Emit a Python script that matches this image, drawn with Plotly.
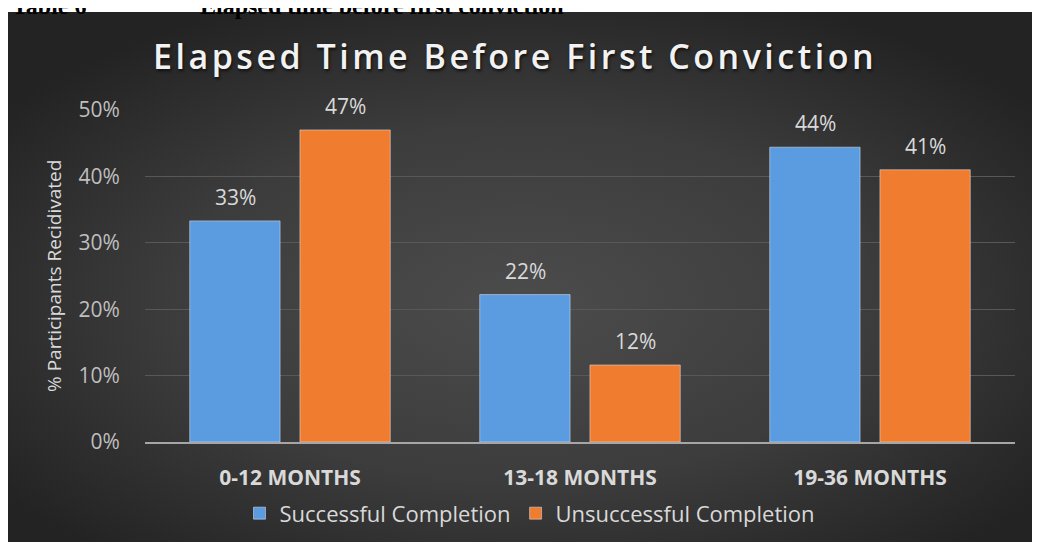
import base64
import plotly.graph_objects as go

categories = ['0-12 MONTHS', '13-18 MONTHS', '19-36 MONTHS']
successful = [0.333, 0.222, 0.444]
unsuccessful = [0.470, 0.116, 0.410]
series_names = ['Successful Completion', 'Unsuccessful Completion']
y_ticks = [0, 0.1, 0.2, 0.3, 0.4, 0.5]

BLUE = '#5b9be0'
ORANGE = '#f07c30'
FONT = 'Open Sans'

# the page body adds an 8px margin, so the figure is drawn 8px in from the corner
OFF = 8
W, H = 1040 - OFF, 546 - OFF
# plot area, in page pixels: x 145..1015, y 110..445
L, T = 145 - OFF, 110 - OFF
R, B = W - (1015 - OFF), H - (445 - OFF)
PW, PH = W - L - R, H - T - B


def px_x(p):
    return (p - OFF - L) / PW


def px_y(p):
    return (H - B - (p - OFF)) / PH


# dark panel with a soft radial glow, as an svg image behind the chart
svg = ('<svg xmlns="http://www.w3.org/2000/svg" width="1033" height="535" preserveAspectRatio="none">'
       '<defs><radialGradient id="g" cx="50%" cy="55%" r="62%">'
       '<stop offset="0" stop-color="#4c4c4c"/><stop offset="0.55" stop-color="#3c3c3c"/>'
       '<stop offset="1" stop-color="#232323"/></radialGradient></defs>'
       '<rect width="1033" height="535" fill="url(#g)"/></svg>')
svg_src = 'data:image/svg+xml;base64,' + base64.b64encode(svg.encode()).decode()

fig = go.Figure()
fig.add_trace(go.Bar(x=categories, y=successful, name=series_names[0],
                     marker_color=BLUE, hoverinfo='skip'))
fig.add_trace(go.Bar(x=categories, y=unsuccessful, name=series_names[1],
                     marker_color=ORANGE, hoverinfo='skip'))

# value labels above each bar
for shift, vals in ((-55, successful), (55, unsuccessful)):
    for c, v in zip(categories, vals):
        fig.add_annotation(x=c, y=v, xshift=shift, yshift=8, yanchor='bottom',
                           text=f'{v:.0%}', showarrow=False,
                           font=dict(family=FONT, size=21, color='#d9d9d9'))

fig.add_annotation(xref='paper', yref='paper', x=px_x(39), y=0.5,
                   text='% Participants Recidivated', textangle=-90, showarrow=False,
                   font=dict(family=FONT, size=19, color='#d9d9d9'))

# caption of the source document, cut by the page top
fig.add_annotation(xref='paper', yref='paper', x=px_x(10), y=px_y(20), xanchor='left',
                   yanchor='bottom', text='<b>Table 6</b>', showarrow=False,
                   font=dict(family='Liberation Serif', size=24, color='black'))
fig.add_annotation(xref='paper', yref='paper', x=px_x(198), y=px_y(20), xanchor='left',
                   yanchor='bottom', text='<b>Elapsed time before first conviction</b>',
                   showarrow=False,
                   font=dict(family='Liberation Serif', size=24, color='black'))

fig.add_layout_image(source=svg_src, xref='paper', yref='paper',
                     x=px_x(7), y=px_y(11), sizex=(1040 - 7) / PW, sizey=(546 - 11) / PH,
                     xanchor='left', yanchor='top', sizing='stretch', layer='below')

fig.update_layout(
    width=W, height=H,
    margin=dict(l=L, r=R, t=T, b=B),
    paper_bgcolor='white', plot_bgcolor='rgba(0,0,0,0)',
    barmode='group', bargap=0.24, bargroupgap=0.18,
    title=dict(text='<span style="letter-spacing:3.5px">Elapsed Time Before First Conviction</span>',
               x=(515 - OFF) / W, xanchor='center',
               y=1 - (57 - OFF) / H, yanchor='middle',
               font=dict(family=FONT, size=34, weight=600, color='#f2f2f2',
                         shadow='1px 2px 3px #111')),
    legend=dict(orientation='h', x=px_x(530), xanchor='center', y=px_y(517), yanchor='middle',
                font=dict(family=FONT, size=22, color='#d9d9d9'),
                bgcolor='rgba(0,0,0,0)', itemwidth=30),
    showlegend=True,
)
fig.update_xaxes(showline=True, linecolor='#a6a6a6', linewidth=2,
                 ticks='outside', ticklen=16, tickcolor='rgba(0,0,0,0)',
                 tickfont=dict(family=FONT, size=21, weight='bold', color='#d9d9d9'),
                 fixedrange=True)
fig.update_yaxes(range=[0, 0.5], tickvals=y_ticks, tickformat='.0%',
                 gridcolor='#585858', gridwidth=1, zeroline=False,
                 ticks='outside', ticklen=20, tickcolor='rgba(0,0,0,0)',
                 tickfont=dict(family=FONT, size=21, color='#bfbfbf'),
                 fixedrange=True)

fig.write_html('out.html', config=dict(displayModeBar=False))
